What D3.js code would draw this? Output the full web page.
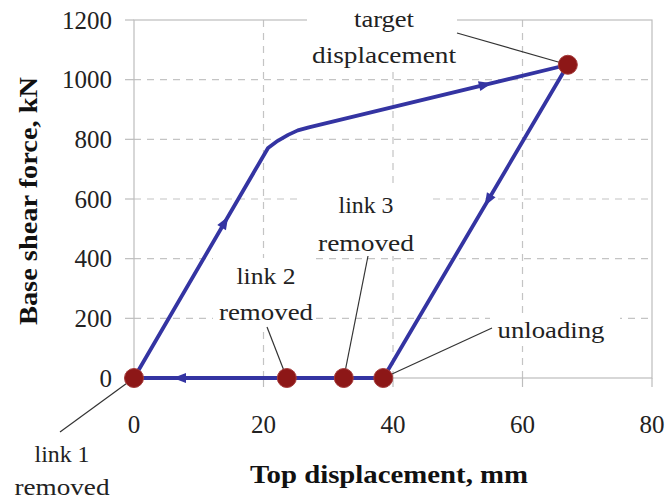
<!DOCTYPE html>
<html>
<head>
<meta charset="utf-8">
<script src="https://cdn.jsdelivr.net/npm/d3@7"></script>
<style>
  html, body { margin: 0; padding: 0; background: #fff; }
</style>
</head>
<body>
<svg id="chart" width="668" height="502"></svg>
<script>
// Pushover curve: loading branch, unloading branch and residual (links removed)
const loadingX = [0, 20.7, 22.2, 23.8, 25.3, 27, 67];
const loadingY = [0, 771, 795, 815, 830, 840, 1050];
const unloadingX = [67, 38.5, 0];
const unloadingY = [1050, 0, 0];

// Events marked on the curve
const eventX = [0, 23.6, 32.4, 38.5, 67];
const eventY = [0, 0, 0, 0, 1050];

// Direction arrows: branch, segment index on that branch, position along x
const arrowBranch = ["load", "load", "unload", "unload"];
const arrowSegment = [0, 5, 0, 1];
const arrowX = [14, 54.2, 54.7, 7.1];

const xTicks = [0, 20, 40, 60, 80];
const yTicks = [0, 200, 400, 600, 800, 1000, 1200];
const xTitle = "Top displacement, mm";
const yTitle = "Base shear force, kN";

const serif = "'Liberation Serif', 'Times New Roman', Times, serif";

const svg = d3.select("#chart").attr("font-family", serif);
const x = d3.scaleLinear().domain([0, 80]).range([134, 652]);
const y = d3.scaleLinear().domain([0, 1200]).range([378, 20]);

const gridColor = "#c4c4c4";
const frameColor = "#bdbdbd";
const blue = "#3434a2";
const red = "#8d1717";

// Dashed grid
svg.append("g").selectAll("line").data(yTicks.slice(1, -1)).join("line")
  .attr("x1", x(0)).attr("x2", x(80))
  .attr("y1", d => y(d)).attr("y2", d => y(d))
  .attr("stroke", gridColor).attr("stroke-width", 1.2).attr("stroke-dasharray", "7,6");
svg.append("g").selectAll("line").data(xTicks.slice(1, -1)).join("line")
  .attr("x1", d => x(d)).attr("x2", d => x(d))
  .attr("y1", y(1200)).attr("y2", y(0))
  .attr("stroke", gridColor).attr("stroke-width", 1.2).attr("stroke-dasharray", "7,6");

// Frame and outward ticks
svg.append("rect")
  .attr("x", x(0)).attr("y", y(1200))
  .attr("width", x(80) - x(0)).attr("height", y(0) - y(1200))
  .attr("fill", "none").attr("stroke", frameColor).attr("stroke-width", 1.2);
svg.append("g").selectAll("line").data(yTicks).join("line")
  .attr("x1", x(0) - 9).attr("x2", x(0))
  .attr("y1", d => y(d)).attr("y2", d => y(d))
  .attr("stroke", frameColor).attr("stroke-width", 1.2);
svg.append("g").selectAll("line").data(xTicks).join("line")
  .attr("x1", d => x(d)).attr("x2", d => x(d))
  .attr("y1", y(0)).attr("y2", y(0) + 9)
  .attr("stroke", frameColor).attr("stroke-width", 1.2);

// Tick labels
svg.append("g").selectAll("text").data(yTicks).join("text")
  .attr("x", 112).attr("y", d => y(d)).attr("dy", "0.35em")
  .attr("text-anchor", "end").attr("font-size", 25).attr("fill", "#222")
  .attr("font-family", serif)
  .text(d => d);
svg.append("g").selectAll("text").data(xTicks).join("text")
  .attr("x", d => x(d)).attr("y", 433)
  .attr("text-anchor", "middle").attr("font-size", 25).attr("fill", "#222")
  .attr("font-family", serif)
  .text(d => d);

// Axis titles
svg.append("text")
  .attr("x", 389).attr("y", 483).attr("text-anchor", "middle")
  .attr("font-size", 25).attr("font-weight", "bold").attr("fill", "#111")
  .attr("font-family", serif)
  .attr("textLength", 278).attr("lengthAdjust", "spacingAndGlyphs")
  .text(xTitle);
svg.append("text")
  .attr("transform", "translate(37,201) rotate(-90)")
  .attr("text-anchor", "middle")
  .attr("font-size", 25).attr("font-weight", "bold").attr("fill", "#111")
  .attr("font-family", serif)
  .attr("textLength", 248).attr("lengthAdjust", "spacingAndGlyphs")
  .text(yTitle);

// Annotation labels (white backing hides the grid beneath)
const notes = [
  { lines: ["target", "displacement"], cx: 384, base: [27, 63], len: [60, 144], box: [307, 2, 150, 70] },
  { lines: ["link 3", "removed"], cx: 366, base: [213, 251], len: [55, 96], box: [300, 188, 133, 68] },
  { lines: ["link 2", "removed"], cx: 266, base: [284, 320], len: [59, 94], box: [213, 258, 100, 72] },
  { lines: ["unloading"], cx: 551, base: [338], len: [107], box: [490, 316, 130, 30] },
  { lines: ["link 1", "removed"], cx: 62, base: [462, 495], len: [55, 95], box: null }
];
const leaders = [
  [457, 33, x(67), y(1050)],
  [368, 256, x(32.4), y(0)],
  [267, 327, x(23.6), y(0)],
  [492, 328, x(38.5), y(0)],
  [60, 432, x(0), y(0)]
];

notes.forEach(n => {
  if (n.box) {
    svg.append("rect").attr("x", n.box[0]).attr("y", n.box[1])
      .attr("width", n.box[2]).attr("height", n.box[3]).attr("fill", "#fff");
  }
});

// Curve
const line = d3.line().x(d => x(d[0])).y(d => y(d[1]));
const loadPts = loadingX.map((v, i) => [v, loadingY[i]]);
const unloadPts = unloadingX.map((v, i) => [v, unloadingY[i]]);
svg.append("path").attr("d", line(loadPts))
  .attr("fill", "none").attr("stroke", blue).attr("stroke-width", 3.8)
  .attr("stroke-linejoin", "round");
svg.append("path").attr("d", line(unloadPts))
  .attr("fill", "none").attr("stroke", blue).attr("stroke-width", 3.8)
  .attr("stroke-linejoin", "round");

// Direction arrows placed on their segments
arrowX.forEach((ax, i) => {
  const pts = arrowBranch[i] === "load" ? loadPts : unloadPts;
  const a = pts[arrowSegment[i]], b = pts[arrowSegment[i] + 1];
  const t = (ax - a[0]) / (b[0] - a[0]);
  const vy = a[1] + t * (b[1] - a[1]);
  const px = x(ax), py = y(vy);
  const ang = Math.atan2(y(b[1]) - y(a[1]), x(b[0]) - x(a[0])) * 180 / Math.PI;
  svg.append("path")
    .attr("d", "M7,0 L-6,-5 L-6,5 Z")
    .attr("transform", `translate(${px},${py}) rotate(${ang})`)
    .attr("fill", blue);
});

// Leader lines
svg.append("g").selectAll("line").data(leaders).join("line")
  .attr("x1", d => d[0]).attr("y1", d => d[1])
  .attr("x2", d => d[2]).attr("y2", d => d[3])
  .attr("stroke", "#333").attr("stroke-width", 1.2);

// Event markers
svg.append("g").selectAll("circle").data(eventX).join("circle")
  .attr("cx", d => x(d)).attr("cy", (d, i) => y(eventY[i]))
  .attr("r", 9.5).attr("fill", red).attr("stroke", "#a53a3a").attr("stroke-width", 1);

// Annotation texts
notes.forEach(n => {
  n.lines.forEach((t, j) => {
    svg.append("text")
      .attr("x", n.cx).attr("y", n.base[j]).attr("text-anchor", "middle")
      .attr("font-size", 24).attr("fill", "#222")
      .attr("font-family", serif)
      .attr("textLength", n.len[j]).attr("lengthAdjust", "spacingAndGlyphs")
      .text(t);
  });
});
</script>
</body>
</html>
